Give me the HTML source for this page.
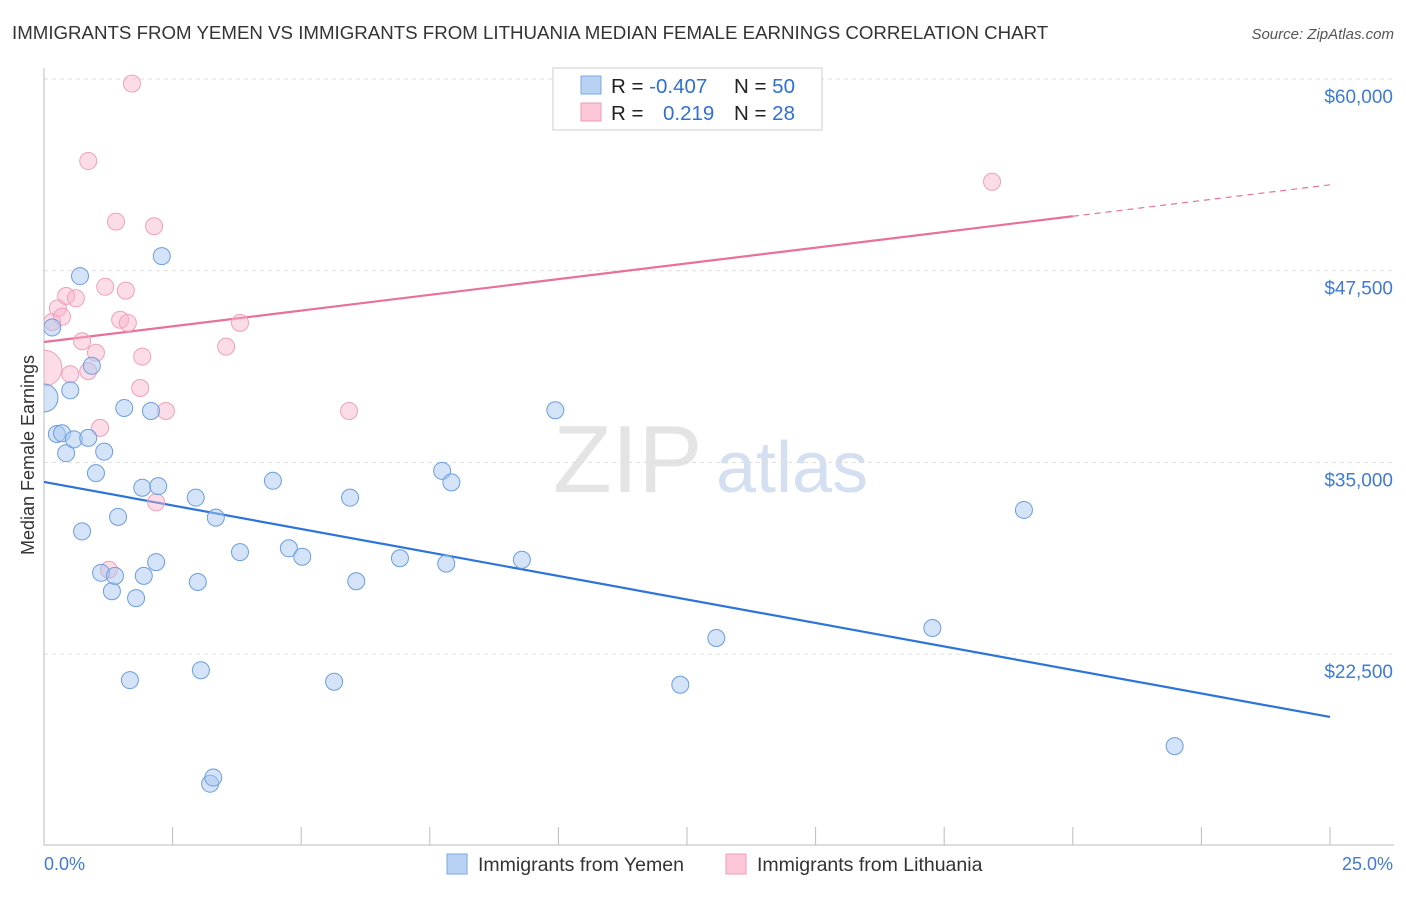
<!DOCTYPE html>
<html><head><meta charset="utf-8"><style>
body{margin:0;background:#fff;font-family:"Liberation Sans",sans-serif;}
svg text{font-family:"Liberation Sans",sans-serif;}
</style></head><body>
<svg id="chart" width="1406" height="892">
<defs><clipPath id="plotclip"><rect x="44" y="0" width="1362" height="892"/></clipPath></defs>
<text x="12" y="39" font-size="18.7" fill="#333">IMMIGRANTS FROM YEMEN VS IMMIGRANTS FROM LITHUANIA MEDIAN FEMALE EARNINGS CORRELATION CHART</text>
<text x="1394" y="39" font-size="15" fill="#555" font-style="italic" text-anchor="end">Source: ZipAtlas.com</text>
<text x="553" y="492" font-size="96" fill="#e4e4e4" font-family="Liberation Serif">ZIP</text>
<text x="716" y="492" font-size="72" fill="#d4e0f2">atlas</text>
<text transform="translate(34,455) rotate(-90)" font-size="18" fill="#333" text-anchor="middle">Median Female Earnings</text>
<g id="grid"></g><g id="axes"></g><g id="lines"></g><g id="pts" clip-path="url(#plotclip)"></g>
<g>
<rect x="553" y="68" width="269" height="62" fill="#fff" stroke="#ccc"/>
<rect x="581" y="76" width="20" height="18" fill="#b8d2f4" stroke="#7aa7e6"/>
<rect x="581" y="103" width="20" height="18" fill="#fcc8d8" stroke="#f09ab6"/>
<text x="611" y="93" font-size="20.5" fill="#222">R = <tspan fill="#3070d0">-0.407</tspan></text>
<text x="734" y="93" font-size="20.5" fill="#222">N = <tspan fill="#3070d0">50</tspan></text>
<text x="611" y="120" font-size="20.5" fill="#222">R = </text>
<text x="663" y="120" font-size="20.5" fill="#3070d0">0.219</text>
<text x="734" y="120" font-size="20.5" fill="#222">N = <tspan fill="#3070d0"> 28</tspan></text>
</g>
<g>
<rect x="447" y="854" width="20" height="20" fill="#b8d2f4" stroke="#7aa7e6"/>
<text x="478" y="871" font-size="19.5" fill="#333">Immigrants from Yemen</text>
<rect x="726" y="854" width="20" height="20" fill="#fcc8d8" stroke="#f09ab6"/>
<text x="757" y="871" font-size="19.5" fill="#333">Immigrants from Lithuania</text>
</g>
<text x="44" y="870" font-size="18" fill="#3f7ad6">0.0%</text>
<text x="1393" y="870" font-size="18" fill="#3f7ad6" text-anchor="end">25.0%</text>
</svg>
<script>
const yTicks=[60000,47500,35000,22500];
const yTickLabels=["$60,000","$47,500","$35,000","$22,500"];
const yemenX=[0,0.16,0.25,0.35,0.43,0.51,0.58,0.70,0.74,0.86,0.93,1.01,1.11,1.17,1.32,1.38,1.44,1.56,1.67,1.79,1.91,1.94,2.08,2.18,2.22,2.29,2.95,2.99,3.05,3.23,3.29,3.34,3.81,4.45,4.76,5.02,5.64,5.95,6.07,6.92,7.74,7.82,7.92,9.29,9.94,12.37,13.07,17.27,19.05,21.98];
const yemenY=[39200,43800,36850,36900,35600,39700,36500,47150,30500,36600,41300,34300,27800,35700,26600,27600,31450,38550,20800,26150,33350,27600,38350,28500,33450,48450,32700,27200,21450,14050,14450,31400,29150,33800,29400,28850,20700,32700,27250,28750,34450,28400,33700,28650,38400,20500,23550,24200,31900,16500];
const lithX=[0,0.16,0.27,0.35,0.43,0.51,0.62,0.74,0.86,0.86,1.01,1.09,1.19,1.26,1.40,1.48,1.59,1.63,1.71,1.87,1.91,2.14,2.18,2.37,3.54,3.81,5.93,18.43];
const lithY=[41150,44150,45050,44500,45850,40750,45700,42900,54650,40950,42150,37250,46450,28000,50700,44300,46200,44100,59700,39850,41900,50400,32400,38350,42550,44100,38350,53300];
const yemenTrend=[33725,18400];
const lithTrend=[42850,53100];
const NS="http://www.w3.org/2000/svg";
const xs=v=>44+v/25*1286;
const ys=v=>79+(60000-v)/12500*191.7;
function mk(tag,attrs,parent){const e=document.createElementNS(NS,tag);for(const k in attrs)e.setAttribute(k,attrs[k]);document.getElementById(parent).appendChild(e);return e;}
yTicks.forEach((t,i)=>{
 const g=mk('line',{x1:44,x2:1394,y1:ys(t),y2:ys(t),stroke:'#ddd','stroke-dasharray':'4,4'},'grid');
 
 
 const l=mk('text',{x:1393,y:ys(t)+24,'font-size':19,fill:'#3f7ad6','text-anchor':'end'},'axes');
 l.textContent=yTickLabels[i];
 
 
});
const a1=mk('line',{x1:44,x2:44,y1:68,y2:845,stroke:'#bbb'},'axes');


const a2=mk('line',{x1:44,x2:1394,y1:845,y2:845,stroke:'#bbb'},'axes');


for(let i=1;i<=10;i++){const t=mk('line',{x1:xs(i*2.5),x2:xs(i*2.5),y1:827,y2:845,stroke:'#bbb'},'axes');
 
 }
const bl=mk('line',{x1:xs(0),y1:ys(yemenTrend[0]),x2:xs(25),y2:ys(yemenTrend[1]),stroke:'#2d74d8','stroke-width':2.2},'lines');


const pm=lithTrend[0]+(lithTrend[1]-lithTrend[0])*0.8;
const pl=mk('line',{x1:xs(0),y1:ys(lithTrend[0]),x2:xs(20),y2:ys(pm),stroke:'#e8709a','stroke-width':2.2},'lines');


const pd=mk('line',{x1:xs(20),y1:ys(pm),x2:xs(25),y2:ys(lithTrend[1]),stroke:'#e8709a','stroke-width':1.2,'stroke-dasharray':'6,5'},'lines');


lithX.forEach((x,i)=>{const c=mk('circle',{cx:xs(x),cy:ys(lithY[i]),r:i==0?18:8.5,fill:'rgba(248,180,202,0.45)',stroke:'#f0a0bb','stroke-width':1},'pts');
 
 });
yemenX.forEach((x,i)=>{const c=mk('circle',{cx:xs(x),cy:ys(yemenY[i]),r:i==0?14:8.5,fill:'rgba(170,200,240,0.5)',stroke:'#6a9ee0','stroke-width':1},'pts');
 
 });
</script>
</body></html>
